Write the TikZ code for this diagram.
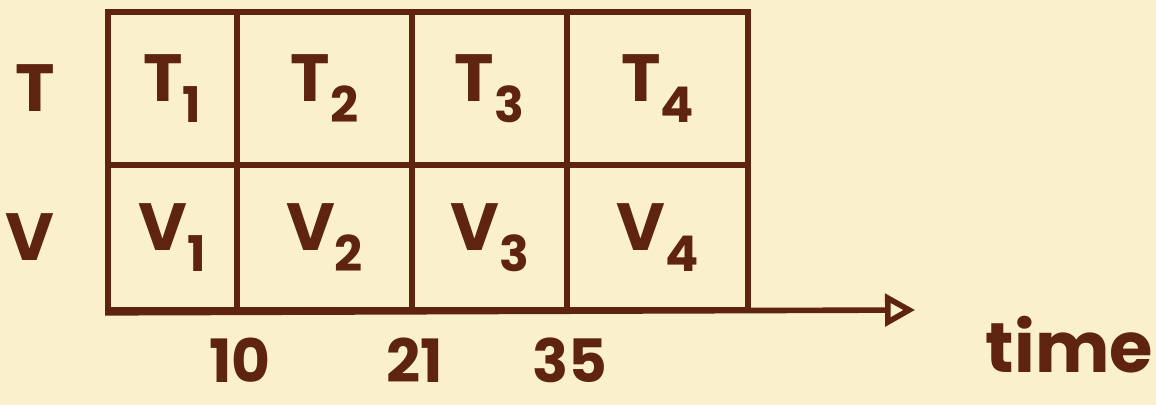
\documentclass[tikz,border=0pt]{standalone}
\usepackage{fontspec}
\setmainfont{Poppins}
\usetikzlibrary{positioning,arrows.meta}
\definecolor{paper}{HTML}{FBF0CC}
\definecolor{ink}{HTML}{5E2410}
\newcommand{\sub}[1]{\raisebox{-0.55ex}{\fontsize{14}{14}\selectfont #1}}
\tikzset{
  cell/.style={draw=ink, line width=1.6pt, inner sep=0pt, text=ink, font=\fontsize{19}{22}\selectfont\bfseries},
  rowT/.style={cell, minimum height=1.53cm},
  rowV/.style={cell, minimum height=1.45cm},
  side/.style={text=ink, inner sep=0pt, font=\fontsize{19}{22}\selectfont\bfseries},
  tick/.style={text=ink, inner sep=0pt, font=\fontsize{17}{19}\selectfont\bfseries},
  arr/.style={-{Triangle[open, length=3mm, width=3.2mm, line width=1.6pt]}, draw=ink, line width=1.6pt}}

\begin{document}
\begin{tikzpicture}
\fill[paper] (0,0) rectangle (11.56,4.05);
\useasboundingbox (0,0) rectangle (11.56,4.05);
% time slots, one column per interval
\node[rowT, minimum width=1.29cm] (t1) at (1.725,3.165) {T\sub{1}};
\node[rowT, minimum width=1.75cm] (t2) at (3.245,3.165) {T\sub{2}};
\node[rowT, minimum width=1.55cm] (t3) at (4.895,3.165) {T\sub{3}};
\node[rowT, minimum width=1.81cm] (t4) at (6.575,3.165) {T\sub{4}};
\node[rowV, minimum width=1.29cm] (v1) at (1.725,1.675) {V\sub{1}};
\node[rowV, minimum width=1.75cm] (v2) at (3.245,1.675) {V\sub{2}};
\node[rowV, minimum width=1.55cm] (v3) at (4.895,1.675) {V\sub{3}};
\node[rowV, minimum width=1.81cm] (v4) at (6.575,1.675) {V\sub{4}};
% row names
\node[side, left=5mm of t1] (rt) {T};
\node[side, left=5mm of v1] (rv) {V};
% time axis
\coordinate (tip) at (9.15,0.95);
\draw[arr] (v1.south west) -- (tip);
\node[tick, font=\fontsize{20}{24}\selectfont\bfseries, right=7mm of tip, yshift=-3.5mm] (time) {time};
\node[tick, below=2.4mm of v1.south east] (n10) {10};
\node[tick, below=2.4mm of v2.south east] (n21) {21};
\node[tick, below=2.4mm of v3.south east] (n35) {35};
\end{tikzpicture}
\end{document}
